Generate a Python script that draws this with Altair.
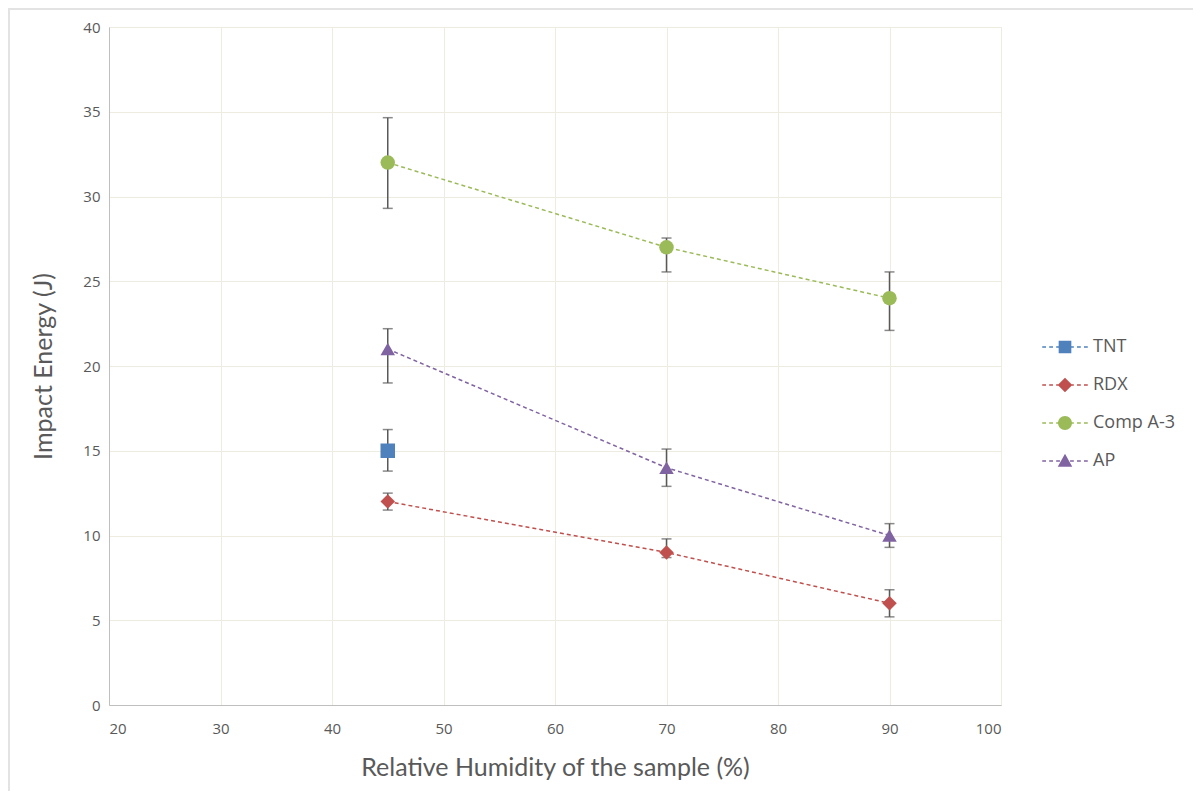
import altair as alt
import pandas as pd

series_names = ["TNT", "RDX", "Comp A-3", "AP"]
series_colors = ["#4F81BD", "#C0504D", "#9BBB59", "#8064A2"]
series_shapes = ["square", "diamond", "circle", "triangle-up"]

tnt_x = [45]
tnt_y = [15]
tnt_lo = [13.8]
tnt_hi = [16.25]

rdx_x = [45, 70, 90]
rdx_y = [12, 9, 6]
rdx_lo = [11.5, 8.7, 5.2]
rdx_hi = [12.5, 9.8, 6.8]

comp_x = [45, 70, 90]
comp_y = [32, 27, 24]
comp_lo = [29.3, 25.55, 22.1]
comp_hi = [34.65, 27.55, 25.55]

ap_x = [45, 70, 90]
ap_y = [21, 14, 10]
ap_lo = [19.0, 12.9, 9.3]
ap_hi = [22.2, 15.1, 10.7]

x_ticks = [20, 30, 40, 50, 60, 70, 80, 90, 100]
y_ticks = [0, 5, 10, 15, 20, 25, 30, 35, 40]

rows = []
for name, xs, ys, los, his in [
    ("TNT", tnt_x, tnt_y, tnt_lo, tnt_hi),
    ("RDX", rdx_x, rdx_y, rdx_lo, rdx_hi),
    ("Comp A-3", comp_x, comp_y, comp_lo, comp_hi),
    ("AP", ap_x, ap_y, ap_lo, ap_hi),
]:
    for x, y, lo, hi in zip(xs, ys, los, his):
        rows.append({"series": name, "rh": x, "energy": y, "lo": lo, "hi": hi})
df = pd.DataFrame(rows)

FONT = "Open Sans"
TITLE_FONT = "Lato"

# legend symbols: dashed line segment with the series marker in the middle
DASHES = ("M-3.6,-0.12H-3.0V0.12H-3.6Z M-2.5,-0.12H-1.9V0.12H-2.5Z "
          "M-1.4,-0.12H-0.8V0.12H-1.4Z M0.8,-0.12H1.4V0.12H0.8Z "
          "M1.9,-0.12H2.5V0.12H1.9Z M3.0,-0.12H3.6V0.12H3.0Z ")
legend_paths = [
    DASHES + "M-1,-1H1V1H-1Z",
    DASHES + "M0,-1.15L1.15,0L0,1.15L-1.15,0Z",
    DASHES + "M1.1,0A1.1,1.1,0,1,1,-1.1,0A1.1,1.1,0,1,1,1.1,0Z",
    DASHES + "M0,-1.15L1.15,0.9L-1.15,0.9Z",
]

x_enc = alt.X("rh:Q", scale=alt.Scale(domain=[20, 100], nice=False),
              axis=alt.Axis(values=x_ticks, title="Relative Humidity of the sample (%)",
                            labelFont=FONT, labelFontSize=15, labelColor="#595959",
                            titleFont=TITLE_FONT, titleFontSize=25, titleFontWeight="normal",
                            titleColor="#595959", titlePadding=19,
                            grid=True, gridColor="#EEECE1", gridWidth=1,
                            domainColor="#BFBFBF", ticks=False, labelPadding=16))
y_enc = alt.Y("energy:Q", scale=alt.Scale(domain=[0, 40], nice=False),
              axis=alt.Axis(values=y_ticks, title="Impact Energy (J)",
                            labelFont=FONT, labelFontSize=15, labelColor="#595959",
                            titleFont=TITLE_FONT, titleFontSize=25, titleFontWeight="normal",
                            titleColor="#595959", titlePadding=26,
                            grid=True, gridColor="#EEECE1", gridWidth=1,
                            domainColor="#BFBFBF", ticks=False, labelPadding=9))

def cscale():
    return alt.Scale(domain=series_names, range=series_colors)

legend = alt.Legend(title=None, orient="none", legendX=947, legendY=311,
                    labelFont=FONT, labelFontSize=18, labelColor="#595959",
                    symbolSize=160, rowPadding=20, labelOffset=19,
                    symbolStrokeWidth=0, symbolOpacity=1)

base = alt.Chart(df)

lines = base.mark_line(strokeDash=[4, 3], strokeWidth=1.5).encode(
    x=x_enc, y=y_enc,
    color=alt.Color("series:N", scale=cscale(), legend=None),
    detail="series:N",
)

err_rule = base.mark_rule(color="#595959", strokeWidth=1.5).encode(
    x="rh:Q", y="lo:Q", y2="hi:Q")
err_lo = base.mark_tick(orient="horizontal", size=10, thickness=1.5, color="#595959").encode(
    x="rh:Q", y="lo:Q")
err_hi = base.mark_tick(orient="horizontal", size=10, thickness=1.5, color="#595959").encode(
    x="rh:Q", y="hi:Q")

points = base.mark_point(filled=True, size=210, opacity=1).encode(
    x="rh:Q", y="energy:Q",
    color=alt.Color("series:N", scale=cscale(), legend=None),
    shape=alt.Shape("series:N", scale=alt.Scale(domain=series_names, range=series_shapes),
                    legend=None),
)

legend_layer = base.mark_point(filled=True, size=160, opacity=0).encode(
    x="rh:Q", y="energy:Q",
    color=alt.Color("series:N", scale=cscale(), legend=legend),
    shape=alt.Shape("series:N", scale=alt.Scale(domain=series_names, range=legend_paths),
                    legend=legend),
)

frame = alt.Chart(pd.DataFrame({"k": [0]}))
border_left = frame.mark_rule(color="#E3E3E3", strokeWidth=2).encode(
    x=alt.value(-100), y=alt.value(-19), y2=alt.value(800))
border_top = frame.mark_rule(color="#E3E3E3", strokeWidth=2).encode(
    x=alt.value(-100), x2=alt.value(1084), y=alt.value(-18))

chart = alt.layer(
    border_left, border_top, lines, err_rule, err_lo, err_hi, points, legend_layer
).resolve_scale(color="independent", shape="independent").properties(
    width=892, height=678,
    autosize=alt.AutoSizeParams(type="none"),
    padding={"left": 101, "top": 19, "right": 192, "bottom": 86},
).configure_view(stroke=None).configure(background="white")

chart.save("out.html", embed_options={"renderer": "svg", "actions": False})
